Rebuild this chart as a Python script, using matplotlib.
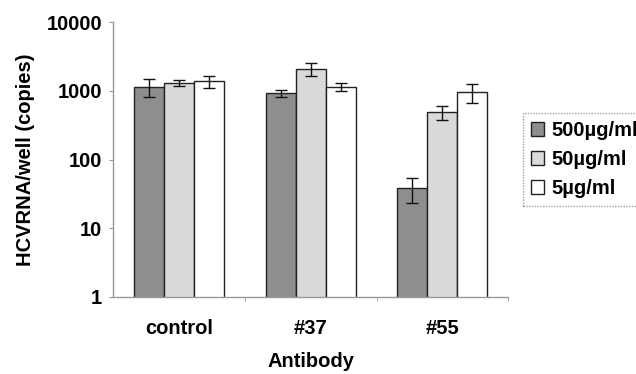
import matplotlib.pyplot as plt
import numpy as np

plt.rcParams['font.family'] = ['Liberation Sans', 'DejaVu Sans']
plt.rcParams['font.weight'] = 'bold'

# data
antibodies = ['control', '#37', '#55']
doses = ['500µg/ml', '50µg/ml', '5µg/ml']
copies_500 = [1150, 920, 38]
copies_50 = [1300, 2100, 490]
copies_5 = [1380, 1130, 960]
err_500 = [330, 110, 15]
err_50 = [130, 460, 110]
err_5 = [280, 150, 290]

colors = ['#8e8e8e', '#dadada', '#ffffff']
fs = 14.5

fig = plt.figure(figsize=(6.36, 3.74), dpi=100)
ax = fig.add_axes([0.178, 0.206, 0.621, 0.735])

x = np.arange(len(antibodies))
w = 0.228
series = [copies_500, copies_50, copies_5]
errs = [err_500, err_50, err_5]
for i, (vals, e) in enumerate(zip(series, errs)):
    ax.bar(x + (i - 1) * w, vals, w, bottom=0, color=colors[i],
           edgecolor='#222222', linewidth=1.0, label=doses[i],
           yerr=e, capsize=4,
           error_kw=dict(ecolor='#111111', elinewidth=1.0, capthick=1.0))

ax.set_yscale('log')
ax.set_ylim(1, 10000)
ax.set_xlim(-0.5, 2.5)
ax.set_yticks([1, 10, 100, 1000, 10000])
ax.set_yticklabels(['1', '10', '100', '1000', '10000'])
ax.yaxis.set_minor_locator(plt.NullLocator())
ax.set_xticks(x)
ax.set_xticklabels(antibodies)
ax.set_xticks([0.5, 1.5, 2.5], minor=True)
ax.tick_params(axis='x', which='major', length=0, pad=16, labelsize=fs)
ax.tick_params(axis='x', which='minor', length=3, color='#999999')
ax.tick_params(axis='y', length=3, color='#999999', labelsize=fs, pad=5)

for s in ['top', 'right']:
    ax.spines[s].set_visible(False)
for s in ['left', 'bottom']:
    ax.spines[s].set_color('#999999')
    ax.spines[s].set_linestyle((0, (1, 1)))
    ax.spines[s].set_linewidth(1.0)

ax.set_ylabel('HCVRNA/well (copies)', fontsize=fs, fontweight='bold', labelpad=8)
ax.set_xlabel('Antibody', fontsize=fs, fontweight='bold', labelpad=10)

leg = fig.legend(loc='upper left', bbox_to_anchor=(0.822, 0.698), fontsize=fs,
                 frameon=True, fancybox=False, handlelength=0.65, handleheight=0.65,
                 handletextpad=0.35, borderpad=0.4, labelspacing=0.5,
                 borderaxespad=0)
leg.get_frame().set_edgecolor('#888888')
leg.get_frame().set_linestyle((0, (1, 1)))
leg.get_frame().set_linewidth(1.0)

fig.savefig('out.png', dpi=100)
